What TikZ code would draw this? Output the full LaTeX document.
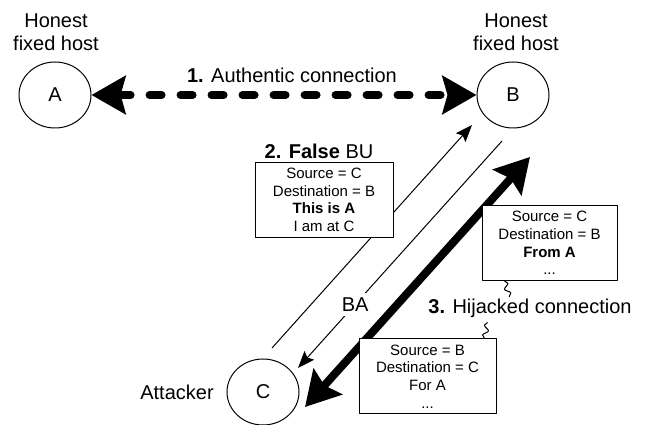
\documentclass[tikz,border=0pt]{standalone}
\usepackage{fontspec}
\setmainfont{Liberation Sans}
\usetikzlibrary{arrows.meta,shapes.geometric,decorations.pathmorphing}

\tikzset{
  host/.style={draw,ellipse,minimum width=72bp,minimum height=66bp,inner sep=0pt,
    font=\fontsize{20bp}{23bp}\selectfont},
  caption/.style={align=center,inner sep=1bp,font=\fontsize{20bp}{23bp}\selectfont},
  msgbox/.style={draw,fill=white,align=center,minimum width=137bp,minimum height=75bp,
    inner sep=2bp,font=\fontsize{15bp}{17.6bp}\selectfont},
  bigtip/.style={-{Stealth[length=34bp,width=38bp,inset=5bp]}},
  squiggle/.style={decorate,decoration={snake,amplitude=2.5bp,segment length=10bp}},
}

\begin{document}
\begin{tikzpicture}[>={Stealth[length=17bp,width=13bp,inset=3bp]},line join=bevel]
  \pgfsetlinewidth{1bp}
  \useasboundingbox (0bp,0bp) rectangle (647bp,425bp);
%%
  % Node: A
  \node[host] (A) at (55bp,330bp) {A};
  \node[caption] (A label) at (56bp,393bp) {Honest\\fixed host};
  % Node: B
  \node[host] (B) at (513bp,330bp) {B};
  \node[caption] (B label) at (516bp,393bp) {Honest\\fixed host};
  % Node: C
  \node[host] (C) at (263bp,33bp) {C};
  \node[caption] (C label) at (177bp,33bp) {Attacker};
%
  \coordinate (bu tail) at (272bp,77bp);
  \coordinate (bu head) at (472bp,300bp);
  \coordinate (ba tail) at (502bp,284bp);
  \coordinate (ba head) at (298bp,57bp);
  \coordinate (hj C) at (305bp,18bp);
  \coordinate (hj B) at (530bp,268bp);
  % Edge: A <-> B
  \draw [line width=8bp,line cap=round,dash pattern=on 12bp off 19bp,
    {Stealth[length=34bp,width=38bp,inset=5bp]}-{Stealth[length=34bp,width=38bp,inset=5bp]}]
    (A) -- (B);
  \node[caption] (auth) at (292bp,350bp) {\textbf{1.} Authentic connection};
  % Edge: C -> B
  \draw [->] (bu tail) -- (bu head);
  % Edge: B -> C
  \draw [->] (ba tail) -- (ba head)
    node[pos=0.72,fill=white,inner sep=5bp,font=\fontsize{20bp}{23bp}\selectfont] (ba) {BA};
  % Edge: C <-> B
  \draw [line width=8bp,
    {Stealth[length=34bp,width=38bp,inset=5bp]}-{Stealth[length=34bp,width=38bp,inset=5bp]}]
    (hj C) -- (hj B);
%
  % Messages
  \node[caption] (bu) at (319bp,274bp) {\textbf{2. False} BU};
  \node[msgbox,minimum width=138bp] (box1) at (324bp,225bp)
    {Source = C\\Destination = B\\\textbf{This is A}\\I am at C};
  \node[msgbox,minimum width=135bp] (box2) at (549.5bp,182bp)
    {Source = C\\Destination = B\\\textbf{From A}\\...};
  \node[msgbox] (box3) at (427.5bp,48.5bp)
    {Source = B\\Destination = C\\For A\\...};
  \node[caption] (hijack) at (530bp,117bp) {\textbf{3.} Hijacked connection};
  \draw [squiggle] ([xshift=23bp]box2.south west) -- ++(5bp,-16bp);
  \draw [squiggle] ([xshift=-12bp]box3.north east) -- ++(3bp,16bp);
%
\end{tikzpicture}
\end{document}
